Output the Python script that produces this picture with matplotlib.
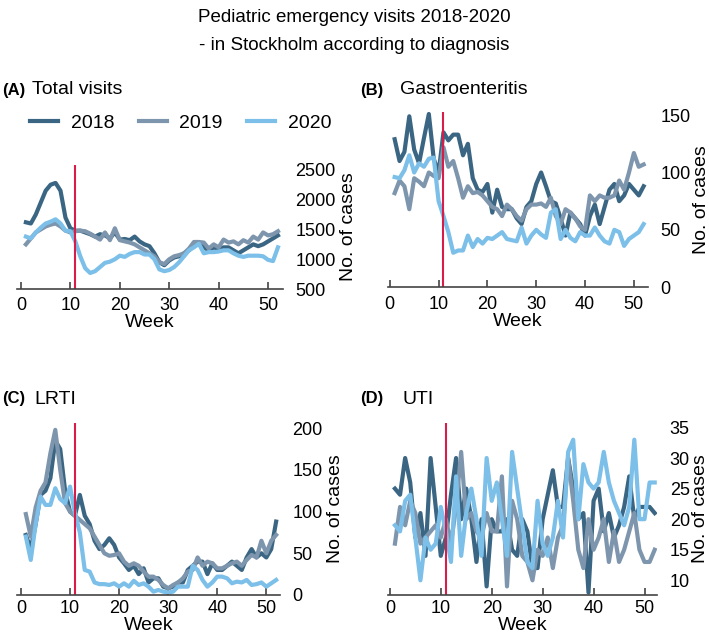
import matplotlib
matplotlib.use("Agg")
import matplotlib.pyplot as plt

plt.rcParams['font.family'] = ['Liberation Sans', 'DejaVu Sans']

weeks = list(range(1, 53))

# Total visits
total_2018 = [1620, 1600, 1750, 1950, 2150, 2250, 2280, 2150, 1700, 1520,
              1480, 1480, 1450, 1420, 1380, 1420, 1400, 1350, 1450, 1330,
              1340, 1320, 1380, 1300, 1250, 1220, 1100, 950, 900, 980,
              1030, 1050, 1100, 1150, 1230, 1250, 1200, 1150, 1200, 1170,
              1200, 1200, 1150, 1100, 1150, 1200, 1250, 1220, 1250, 1300,
              1350, 1400]
total_2019 = [1250, 1350, 1450, 1500, 1550, 1580, 1600, 1550, 1480, 1450,
              1470, 1480, 1470, 1430, 1380, 1330, 1450, 1320, 1520, 1320,
              1300, 1280, 1250, 1200, 1150, 1100, 1050, 950, 920, 1000,
              1050, 1070, 1100, 1180, 1290, 1290, 1280, 1180, 1250, 1200,
              1330, 1280, 1300, 1250, 1320, 1280, 1380, 1330, 1450, 1400,
              1420, 1470]
total_2020 = [1380, 1350, 1450, 1530, 1600, 1630, 1670, 1600, 1480, 1470,
              1300, 1050, 850, 770, 800, 870, 940, 960, 1000, 1060,
              1040, 1090, 1120, 1120, 1080, 1080, 1000, 830, 800, 820,
              870, 950, 1050, 1150, 1200, 1260, 1100, 1120, 1120, 1130,
              1150, 1150, 1100, 1060, 1040, 1060, 1060, 1060, 1050, 990,
              970, 1200]

# Gastroenteritis
gastro_2018 = [129, 110, 118, 149, 120, 108, 130, 151, 112, 100,
               135, 128, 133, 133, 115, 125, 95, 85, 83, 90,
               65, 85, 70, 68, 68, 60, 55, 70, 75, 90,
               100, 88, 75, 73, 60, 45, 65, 60, 55, 45,
               62, 72, 55, 70, 85, 90, 75, 80, 90, 85,
               80, 88]
gastro_2019 = [82, 93, 88, 68, 95, 92, 88, 100, 97, 95,
               122, 105, 110, 95, 78, 88, 82, 83, 80, 75,
               70, 68, 62, 72, 68, 62, 58, 68, 72, 72,
               73, 70, 78, 62, 55, 68, 65, 60, 53, 50,
               80, 75, 80, 78, 78, 80, 93, 85, 100, 117,
               105, 107]
gastro_2020 = [96, 95, 102, 115, 100, 108, 105, 112, 113, 75,
               62, 48, 30, 32, 32, 45, 35, 42, 38, 43,
               42, 45, 48, 42, 41, 40, 52, 38, 45, 50,
               46, 43, 65, 68, 42, 50, 43, 40, 48, 45,
               45, 52, 45, 40, 38, 50, 48, 36, 42, 45,
               48, 55]

# LRTI
lrti_2018 = [72, 55, 85, 120, 125, 140, 185, 175, 125, 100,
             95, 120, 95, 85, 65, 55, 60, 68, 60, 45,
             38, 30, 35, 25, 32, 15, 20, 20, 10, 8,
             10, 15, 15, 30, 35, 40, 40, 25, 38, 30,
             30, 35, 40, 35, 30, 45, 55, 45, 50, 45,
             55, 88]
lrti_2019 = [97, 70, 105, 125, 135, 170, 198, 150, 110, 100,
             95, 90, 85, 80, 70, 60, 50, 47, 48, 50,
             40, 35, 38, 35, 28, 22, 22, 18, 12, 8,
             12, 15, 20, 28, 30, 45, 35, 40, 38, 32,
             32, 35, 38, 40, 35, 42, 48, 45, 65, 50,
             65, 72]
lrti_2020 = [70, 42, 85, 118, 108, 108, 128, 115, 110, 130,
             98, 75, 30, 28, 15, 13, 13, 12, 14, 10,
             14, 10, 17, 12, 14, 10, 4, 6, 4, 3,
             4, 10, 10, 10, 35, 30, 18, 10, 15, 22,
             22, 20, 14, 16, 15, 18, 12, 13, 15, 10,
             14, 18]

# UTI
uti_2018 = [25, 24, 30, 26, 17, 21, 14, 30, 22, 14,
            17, 24, 30, 20, 25, 20, 13, 20, 9, 20,
            18, 18, 20, 15, 14, 20, 18, 12, 12, 20,
            24, 28, 22, 22, 30, 25, 20, 21, 8, 23,
            25, 18, 21, 17, 19, 22, 27, 20, 22, 22,
            22, 21]
uti_2019 = [16, 22, 19, 23, 21, 16, 17, 18, 19, 17,
            20, 16, 22, 31, 20, 21, 18, 17, 21, 18,
            18, 27, 9, 23, 20, 14, 13, 10, 15, 14,
            17, 12, 17, 19, 30, 23, 15, 12, 20, 15,
            17, 20, 13, 18, 13, 15, 18, 21, 15, 13,
            13, 15]
uti_2020 = [19, 18, 23, 24, 17, 10, 17, 15, 16, 22,
            18, 13, 27, 14, 21, 25, 20, 14, 30, 23,
            26, 20, 14, 31, 25, 19, 13, 12, 23, 16,
            14, 17, 23, 17, 31, 33, 20, 29, 26, 25,
            26, 31, 26, 23, 21, 19, 22, 33, 20, 20,
            26, 26]

years = ['2018', '2019', '2020']
colors = ['#3b6683', '#7e96ad', '#7cbfe9']
lockdown_week = 11

panels = [
    ('(A)', 'Total visits', [total_2018, total_2019, total_2020],
     [0.024, 0.549, 0.375, 0.194], (-0.8, 53.0), (500, 2585), [500, 1000, 1500, 2000, 2500]),
    ('(B)', 'Gastroenteritis', [gastro_2018, gastro_2019, gastro_2020],
     [0.547, 0.552, 0.367, 0.273], (-0.4, 52.9), (0, 152.6), [0, 50, 100, 150]),
    ('(C)', 'LRTI', [lrti_2018, lrti_2019, lrti_2020],
     [0.024, 0.0718, 0.371, 0.268], (-0.8, 52.8), (0, 206), [0, 50, 100, 150, 200]),
    ('(D)', 'UTI', [uti_2018, uti_2019, uti_2020],
     [0.547, 0.0718, 0.380, 0.268], (-0.4, 52.5), (7.6, 35.7), [10, 15, 20, 25, 30, 35]),
]

fig = plt.figure(figsize=(7.09, 6.41), dpi=100)

axes = []
for i, (letter, name, series, rect, xl, yl, yt) in enumerate(panels):
    ax = fig.add_axes(rect)
    for vals, c, yr in zip(series, colors, years):
        ax.plot(weeks, vals, color=c, lw=3, label=yr, solid_joinstyle='round')
    ax.axvline(lockdown_week, color='#d81d4a', lw=1.5)
    ax.set_xlim(*xl)
    ax.set_ylim(*yl)
    ax.set_xticks([0, 10, 20, 30, 40, 50])
    ax.set_yticks(yt)
    ax.yaxis.tick_right()
    ax.yaxis.set_label_position('right')
    for s in ['top', 'left', 'right']:
        ax.spines[s].set_visible(False)
    ax.spines['bottom'].set_color('#444444')
    ax.spines['bottom'].set_linewidth(1.2)
    ax.tick_params(axis='x', direction='in', length=5, width=1.2, color='#444444',
                   labelsize=13, pad=6 if i < 2 else 3.5)
    ax.tick_params(axis='y', length=0, labelsize=13, pad=9)
    ax.set_xlabel('Week', fontsize=14, labelpad=0)
    ax.set_ylabel('No. of cases', fontsize=14, labelpad=3 if i % 2 == 0 else 1.5)
    axes.append(ax)

# panel titles
fig.text(2 / 709, 1 - 90 / 641, '(A)', fontsize=12, fontweight='bold', va='center')
fig.text(32 / 709, 1 - 90 / 641, 'Total visits', fontsize=14, va='center')
fig.text(360 / 709, 1 - 90 / 641, '(B)', fontsize=12, fontweight='bold', va='center')
fig.text(400 / 709, 1 - 90 / 641, 'Gastroenteritis', fontsize=14, va='center')
fig.text(2 / 709, 1 - 399 / 641, '(C)', fontsize=12, fontweight='bold', va='center')
fig.text(34 / 709, 1 - 399 / 641, 'LRTI', fontsize=14, va='center')
fig.text(360 / 709, 1 - 399 / 641, '(D)', fontsize=12, fontweight='bold', va='center')
fig.text(402 / 709, 1 - 399 / 641, 'UTI', fontsize=14, va='center')

# legend
axes[0].legend(loc='center left', bbox_to_anchor=(30 / 709, 1 - 123 / 641),
               bbox_transform=fig.transFigure, ncol=3, frameon=False,
               fontsize=14, handlelength=1.45, handletextpad=0.65,
               columnspacing=1.25, borderpad=0, borderaxespad=0)

fig.text(0.5, 1 - 17 / 641, 'Pediatric emergency visits 2018-2020',
         ha='center', va='center', fontsize=13.5)
fig.text(0.5, 1 - 45 / 641, '- in Stockholm according to diagnosis',
         ha='center', va='center', fontsize=13.5)

fig.savefig('out.png', dpi=100)
